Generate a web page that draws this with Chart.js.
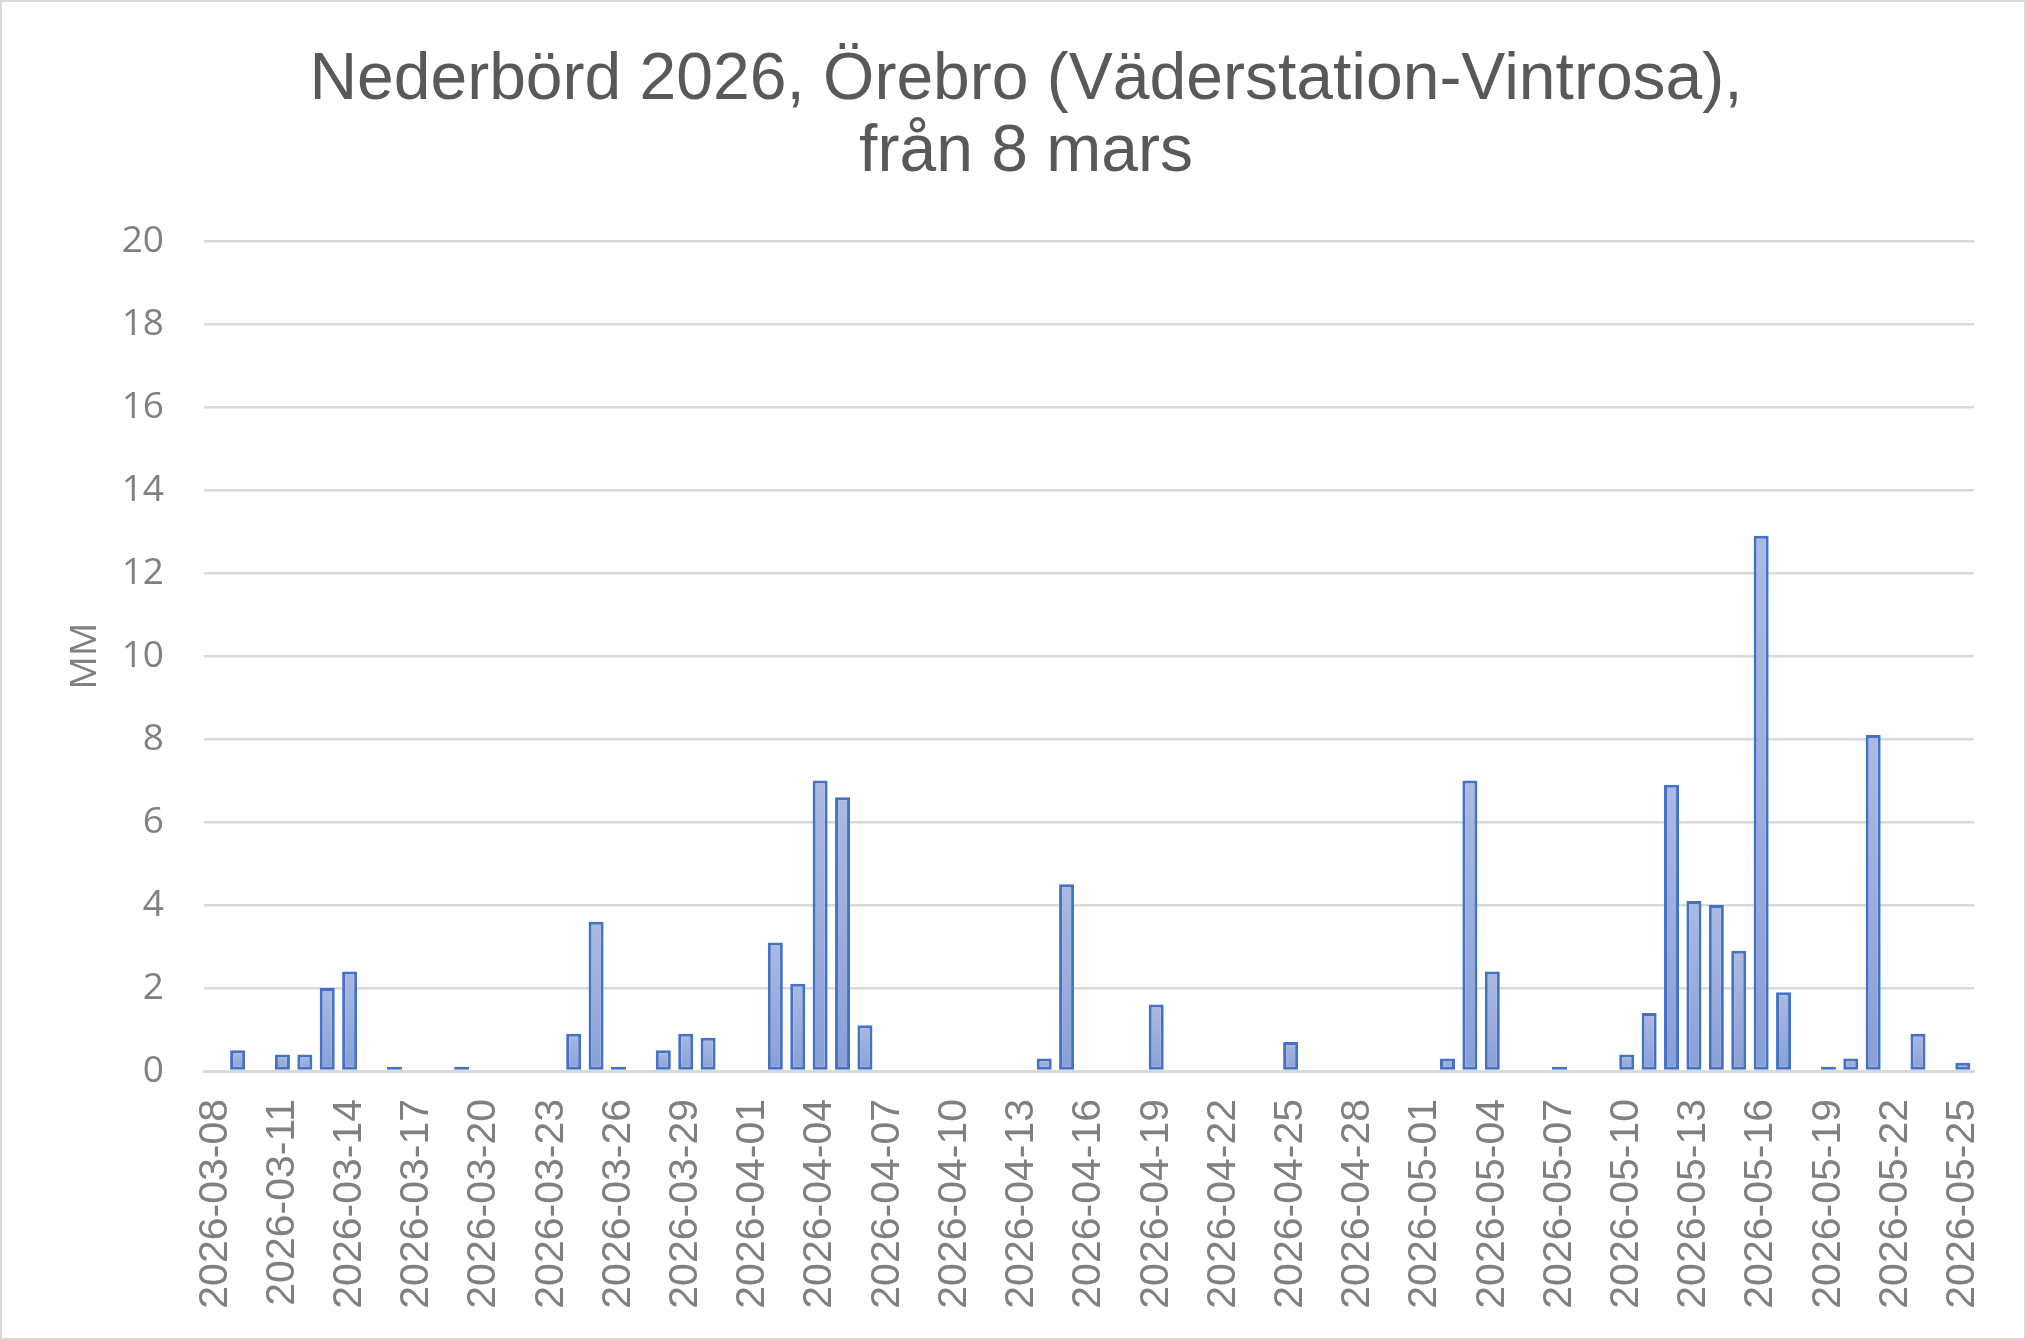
<!DOCTYPE html>
<html>
<head>
<meta charset="utf-8">
<script src="https://cdn.jsdelivr.net/npm/chart.js@4"></script>
<style>
	body { margin: 0; background: #fff; }
	#chart { display: block; outline: 2px solid #d9d9d9; outline-offset: -2px; }
</style>
</head>
<body>
<canvas id="chart" width="2026" height="1340"></canvas>
<script>
// dagar (x-axel)
var dagar = [
	'2026-03-08','2026-03-09','2026-03-10','2026-03-11','2026-03-12','2026-03-13','2026-03-14','2026-03-15',
	'2026-03-16','2026-03-17','2026-03-18','2026-03-19','2026-03-20','2026-03-21','2026-03-22','2026-03-23',
	'2026-03-24','2026-03-25','2026-03-26','2026-03-27','2026-03-28','2026-03-29','2026-03-30','2026-03-31',
	'2026-04-01','2026-04-02','2026-04-03','2026-04-04','2026-04-05','2026-04-06','2026-04-07','2026-04-08',
	'2026-04-09','2026-04-10','2026-04-11','2026-04-12','2026-04-13','2026-04-14','2026-04-15','2026-04-16',
	'2026-04-17','2026-04-18','2026-04-19','2026-04-20','2026-04-21','2026-04-22','2026-04-23','2026-04-24',
	'2026-04-25','2026-04-26','2026-04-27','2026-04-28','2026-04-29','2026-04-30','2026-05-01','2026-05-02',
	'2026-05-03','2026-05-04','2026-05-05','2026-05-06','2026-05-07','2026-05-08','2026-05-09','2026-05-10',
	'2026-05-11','2026-05-12','2026-05-13','2026-05-14','2026-05-15','2026-05-16','2026-05-17','2026-05-18',
	'2026-05-19','2026-05-20','2026-05-21','2026-05-22','2026-05-23','2026-05-24','2026-05-25'
];

// nederbörd mm per dag
var nederbord = [
	0, 0.5, 0, 0.4, 0.4, 2.0, 2.4, 0,
	0.1, 0, 0, 0.1, 0, 0, 0, 0,
	0.9, 3.6, 0.1, 0, 0.5, 0.9, 0.8, 0,
	0, 3.1, 2.1, 7.0, 6.6, 1.1, 0, 0,
	0, 0, 0, 0, 0, 0.3, 4.5, 0,
	0, 0, 1.6, 0, 0, 0, 0, 0,
	0.7, 0, 0, 0, 0, 0, 0, 0.3,
	7.0, 2.4, 0, 0, 0.1, 0, 0, 0.4,
	1.4, 6.9, 4.1, 4.0, 2.9, 12.9, 1.9, 0,
	0.1, 0.3, 8.1, 0, 0.9, 0, 0.2
];

// var tredje dag visas som etikett
var etikettSteg = 3;
var yMin = 0, yMax = 20, ySteg = 2;

var grå = '#808080';

function stapelFarg(ctx) {
	var chart = ctx.chart;
	if (!chart.chartArea || !chart.scales.y || ctx.parsed == null) return '#9db0de';
	var y = chart.scales.y;
	var topp = y.getPixelForValue(ctx.parsed.y);
	var bas = y.getPixelForValue(0);
	if (bas - topp < 1) return '#9db0de';
	var g = chart.ctx.createLinearGradient(0, topp, 0, bas);
	g.addColorStop(0, '#abbae2');
	g.addColorStop(1, '#889fd7');
	return g;
}

var ctx = document.getElementById('chart').getContext('2d');
var myChart = new Chart(ctx, {
	type: 'bar',
	data: {
		labels: dagar,
		datasets: [{
			label: 'Nederbörd',
			data: nederbord,
			backgroundColor: stapelFarg,
			borderColor: '#4472c4',
			borderWidth: 3,
			borderSkipped: false,
			barPercentage: 0.67,
			categoryPercentage: 1.0
		}]
	},
	options: {
		responsive: false,
		animation: false,
		layout: { padding: { left: 26, right: 0, top: 0, bottom: 0 } },
		plugins: {
			legend: { display: false },
			tooltip: { enabled: false },
			title: {
				display: true,
				text: ['Nederbörd 2026, Örebro (Väderstation-Vintrosa),', 'från 8 mars'],
				color: '#595959',
				font: { family: '"Liberation Sans", Arial, sans-serif', size: 66, weight: 'normal', lineHeight: 1.1 },
				padding: { top: 44, bottom: 52 }
			}
		},
		scales: {
			x: {
				grid: { display: false, drawTicks: false },
				border: { display: true, color: '#d9d9d9', width: 3 },
				ticks: {
					autoSkip: false,
					minRotation: 90,
					maxRotation: 90,
					padding: 28,
					color: grå,
					font: { family: '"Liberation Sans", Arial, sans-serif', size: 41 },
					callback: function(val, i) {
						return i % etikettSteg === 0 ? dagar[i] : '';
					}
				},
				afterFit: function(s) {
					s.height = 1340 - 1071;
					s.paddingLeft = 0;
					s.paddingRight = 52;
				}
			},
			y: {
				min: yMin,
				max: yMax,
				grid: { color: '#d9d9d9', lineWidth: 2.5, drawTicks: false },
				border: { display: false },
				ticks: {
					stepSize: ySteg,
					padding: 40,
					color: grå,
					font: { family: '"Open Sans", "Liberation Sans", sans-serif', size: 37 }
				},
				title: {
					display: true,
					text: 'MM',
					color: grå,
					font: { family: '"Open Sans", "Liberation Sans", sans-serif', size: 37 },
					padding: { top: 37, bottom: 0 }
				},
				afterFit: function(s) { s.width = 204 - 26; }
			}
		}
	}
});
</script>
</body>
</html>
